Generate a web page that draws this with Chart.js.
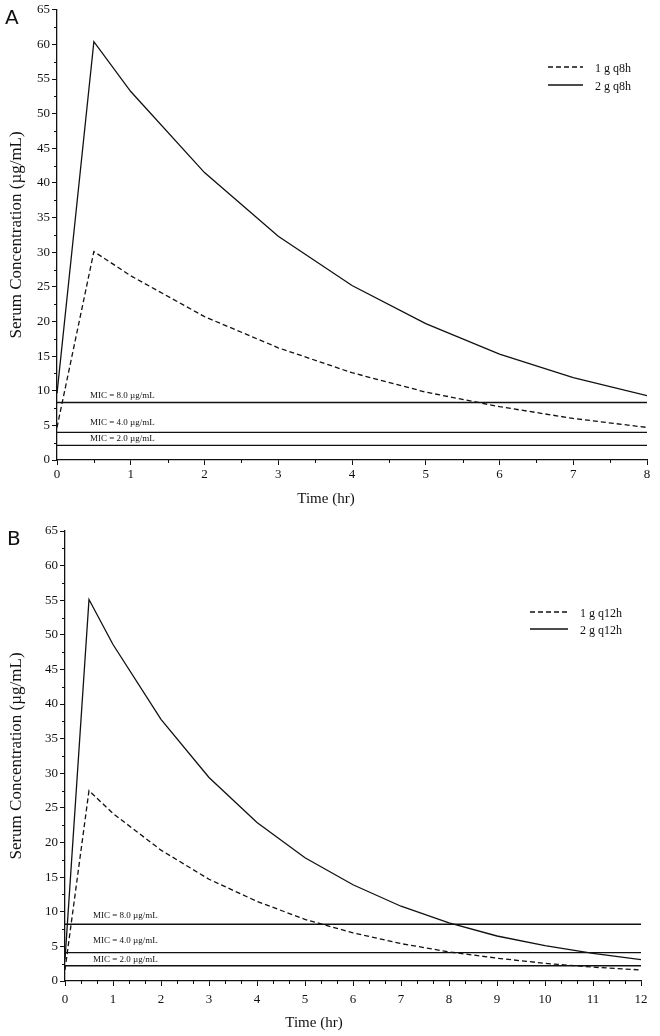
<!DOCTYPE html>
<html lang="en">
<head>
<meta charset="UTF-8">
<title>Serum Concentration vs Time</title>
<script src="https://cdn.jsdelivr.net/npm/chart.js"></script>
<style>
  body { margin: 0; background: #fff; }
  .panel { position: absolute; left: 0; width: 660px; }
  .letter { position: absolute; font-family: 'DejaVu Sans', sans-serif; font-size: 20px; color: #111; }
</style>
</head>
<body>
<div class="panel" style="top:0;height:520px"><canvas id="chartA" width="660" height="520"></canvas></div>
<div class="panel" style="top:520px;height:516px"><canvas id="chartB" width="660" height="516"></canvas></div>
<div class="letter" style="left:5px;top:5px">A</div>
<div class="letter" style="left:7px;top:526px">B</div>

<script>
// ---- data ----
const timeA = [0, 0.5, 1, 2, 3, 4, 5, 6, 7, 8];
const oneGramA = [4.7, 30.1, 26.6, 20.7, 16.2, 12.6, 9.8, 7.7, 6.0, 4.7];
const twoGramA = [9.6, 60.4, 53.2, 41.5, 32.3, 25.2, 19.7, 15.3, 11.9, 9.3];
const micA = [8.3, 4.0, 2.1];

const timeB = [0, 0.5, 1, 2, 3, 4, 5, 6, 7, 8, 9, 10, 11, 12];
const oneGramB = [1.6, 27.5, 24.2, 18.9, 14.7, 11.5, 8.9, 6.95, 5.4, 4.2, 3.3, 2.55, 2.0, 1.6];
const twoGramB = [3.1, 55.1, 48.6, 37.8, 29.4, 22.9, 17.8, 13.9, 10.8, 8.4, 6.5, 5.1, 4.0, 3.1];
const micB = [8.2, 4.1, 2.2];

const micLabels = ['MIC = 8.0 \u00b5g/mL', 'MIC = 4.0 \u00b5g/mL', 'MIC = 2.0 \u00b5g/mL'];
const yTicks = { min: 0, max: 65, step: 5, minor: 2.5 };

const serif = "'Liberation Serif', 'Times New Roman', serif";
const ink = '#111';

const toPoints = (xs, ys) => xs.map((x, i) => ({ x: x, y: ys[i] }));

// small tick marks between the labelled ones
const minorTicks = {
  id: 'minorTicks',
  afterDraw(chart, args, opts) {
    const ctx = chart.ctx;
    const xs = chart.scales.x, ys = chart.scales.y;
    ctx.save();
    ctx.strokeStyle = ink;
    ctx.lineWidth = 1;
    const nx = Math.round((xs.max - xs.min) / opts.xStep);
    for (let i = 1; i < nx; i++) {
      const v = xs.min + i * opts.xStep;
      if (Math.abs(v - Math.round(v)) < 1e-6) continue;
      const px = Math.round(xs.getPixelForValue(v)) + 0.5;
      ctx.beginPath(); ctx.moveTo(px, ys.bottom); ctx.lineTo(px, ys.bottom + 3); ctx.stroke();
    }
    const ny = Math.round((ys.max - ys.min) / opts.yStep);
    for (let i = 1; i < ny; i++) {
      const v = ys.min + i * opts.yStep;
      if (Math.abs(v / 5 - Math.round(v / 5)) < 1e-6) continue;
      const py = Math.round(ys.getPixelForValue(v)) + 0.5;
      ctx.beginPath(); ctx.moveTo(xs.left, py); ctx.lineTo(xs.left - 3, py); ctx.stroke();
    }
    ctx.restore();
  }
};

// MIC captions, legend and the x axis title
const notes = {
  id: 'notes',
  afterDraw(chart, args, opts) {
    const ctx = chart.ctx;
    const xs = chart.scales.x, ys = chart.scales.y;
    ctx.save();
    ctx.fillStyle = ink;
    ctx.textBaseline = 'middle';

    ctx.font = '9px ' + serif;
    opts.mic.forEach((level, i) => {
      ctx.fillText(micLabels[i], xs.left + opts.micX, ys.getPixelForValue(level) - opts.micDy[i]);
    });

    const lg = opts.legend;
    ctx.font = '12px ' + serif;
    chart.data.datasets.slice(0, 2).forEach((ds, i) => {
      const y = lg.y + i * lg.gap;
      ctx.save();
      ctx.strokeStyle = ds.borderColor;
      ctx.lineWidth = ds.borderWidth;
      ctx.setLineDash(ds.borderDash || []);
      ctx.beginPath(); ctx.moveTo(lg.x, y); ctx.lineTo(lg.x + lg.len, y); ctx.stroke();
      ctx.restore();
      ctx.fillText(ds.label, lg.x + lg.len + 12, y + 2);
    });

    ctx.font = '15px ' + serif;
    ctx.textAlign = 'center';
    ctx.fillText('Time (hr)', opts.titleX, opts.titleY);
    ctx.restore();
  }
};

function makeChart(id, t, one, two, mic, cfg) {
  const datasets = [
    { label: cfg.names[0], data: toPoints(t, one), borderDash: [5, 3] },
    { label: cfg.names[1], data: toPoints(t, two) }
  ];
  mic.forEach(level => {
    datasets.push({ label: 'MIC', data: toPoints([t[0], t[t.length - 1]], [level, level]) });
  });
  datasets.forEach(ds => {
    ds.borderColor = ink;
    ds.borderWidth = 1.3;
    ds.pointRadius = 0;
    ds.tension = 0;
    ds.fill = false;
  });

  return new Chart(document.getElementById(id), {
    type: 'line',
    data: { datasets: datasets },
    options: {
      responsive: false,
      animation: false,
      layout: { padding: cfg.padding },
      plugins: {
        legend: { display: false },
        tooltip: { enabled: false },
        minorTicks: { xStep: cfg.xMinor, yStep: yTicks.minor },
        notes: cfg.notes
      },
      scales: {
        x: {
          type: 'linear',
          min: t[0],
          max: t[t.length - 1],
          ticks: { stepSize: 1, color: ink, padding: cfg.xPad, font: { family: serif, size: 13 } },
          grid: { drawOnChartArea: false, tickLength: 5, color: ink },
          border: { color: ink, width: 1.3 },
          afterFit: s => { s.height = cfg.xHeight; }
        },
        y: {
          min: yTicks.min,
          max: yTicks.max,
          ticks: { stepSize: yTicks.step, color: ink, padding: 2, font: { family: serif, size: 13 } },
          grid: { drawOnChartArea: false, tickLength: 5, color: ink },
          border: { color: ink, width: 1.3 },
          title: {
            display: true,
            text: 'Serum Concentration (\u00b5g/mL)',
            color: ink,
            font: { family: serif, size: 17 },
            padding: { top: 6, bottom: 0 }
          },
          afterFit: s => { s.width = cfg.yWidth; }
        }
      }
    },
    plugins: [minorTicks, notes]
  });
}

makeChart('chartA', timeA, oneGramA, twoGramA, micA, {
  names: ['1 g q8h', '2 g q8h'],
  padding: { top: 9, right: 13, left: 0, bottom: 0 },
  xHeight: 60,
  yWidth: 57,
  xPad: 2,
  xMinor: 0.5,
  notes: {
    mic: micA,
    micX: 33,
    micDy: [7, 10, 7],
    legend: { x: 548, y: 67, gap: 18, len: 35 },
    titleX: 326,
    titleY: 499
  }
});

makeChart('chartB', timeB, oneGramB, twoGramB, micB, {
  names: ['1 g q12h', '2 g q12h'],
  padding: { top: 11, right: 19, left: 0, bottom: 0 },
  xHeight: 55,
  yWidth: 65,
  xPad: 6,
  xMinor: 1 / 3,
  notes: {
    mic: micB,
    micX: 28,
    micDy: [9, 12, 6],
    legend: { x: 530, y: 92, gap: 17, len: 38 },
    titleX: 314,
    titleY: 503
  }
});
</script>
</body>
</html>
